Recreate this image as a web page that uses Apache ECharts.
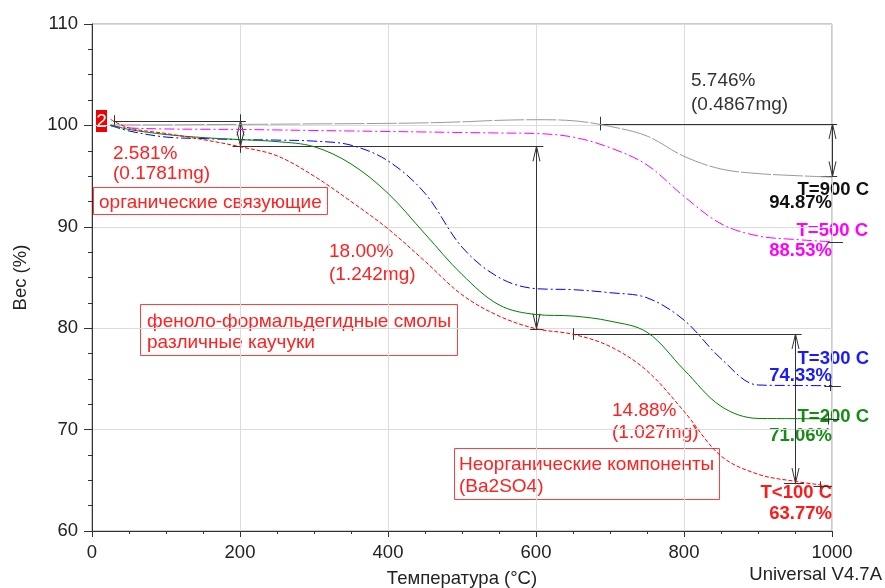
<!DOCTYPE html>
<html>
<head>
<meta charset="utf-8">
<script src="https://cdn.jsdelivr.net/npm/echarts@6/dist/echarts.min.js"></script>
<style>
  html, body { margin: 0; padding: 0; background: #fff; }
  #tga { width: 885px; height: 588px; }
</style>
</head>
<body>
<div id="tga"></div>
<script>
// температуры, общие для всех кривых
const temps = [25, 50, 100, 150, 200, 250, 300, 350, 400, 450, 500, 550, 600, 650, 700, 750, 800, 850, 900, 950, 1000]
// вес (%) для каждой кривой
const wRed = [100.6, 99.75, 99.2, 98.6, 97.9, 97.0, 95.0, 92.5, 89.8, 86.6, 83.3, 81.2, 79.95, 79.4, 78.2, 75.8, 71.8, 67.4, 65.6, 64.9, 64.4]
const wGreen = [100.05, 99.6, 99.1, 98.8, 98.6, 98.4, 97.9, 96.2, 93.3, 89.3, 85.3, 82.3, 81.35, 81.2, 80.7, 79.6, 75.9, 72.3, 71.1, 71.08, 71.06]
const wBlue = [100.0, 99.45, 98.85, 98.7, 98.6, 98.55, 98.45, 98.05, 96.5, 93.3, 88.0, 85.0, 83.9, 83.8, 83.5, 83.0, 80.8, 77.0, 74.4, 74.35, 74.33]
const wMagenta = [99.95, 99.75, 99.65, 99.62, 99.6, 99.55, 99.5, 99.45, 99.4, 99.35, 99.3, 99.25, 99.2, 98.85, 97.8, 96.1, 93.0, 90.3, 89.1, 88.75, 88.53]
const wGray = [100.05, 100.05, 100.05, 100.08, 100.1, 100.12, 100.15, 100.17, 100.2, 100.25, 100.35, 100.5, 100.56, 100.46, 99.9, 98.95, 96.95, 95.7, 95.25, 95.05, 94.9]

// ступени потери массы: [T1, T2, вес]
const stepLines = [
	[29, 208, 100.47], [190, 610, 97.93], [592, 610, 79.95],
	[650, 959, 79.43], [935, 962, 64.73],
	[686, 1007, 100.14], [985, 1007, 94.97],
	[994, 1015, 88.53], [990, 1012, 74.33], [988, 1010, 71.06], [975, 1000, 64.4]
]
// стрелки: [T, верх, низ]
const stepArrows = [[200, 100.47, 97.93], [600, 97.93, 79.95], [950, 79.43, 64.73], [1000, 100.14, 94.97]]
// засечки: [T, верх, низ]
const stepTicks = [[30, 101.0, 99.9], [200, 101.1, 97.3], [650, 80.0, 78.85], [686, 100.85, 99.5],
	[997, 74.9, 73.8], [995, 71.6, 70.5], [984, 64.9, 64.2]]

const xTicks = [0, 200, 400, 600, 800, 1000]
const yTicks = [60, 70, 80, 90, 100, 110]

const FONT = 'Arial, "Liberation Sans", sans-serif'

function pairs(ws) {
	return temps.map((t, i) => [t, ws[i]])
}

function curve(name, ws, color, dash) {
	return {
		name: name,
		type: 'line',
		data: pairs(ws),
		smooth: 0.35,
		showSymbol: false,
		silent: true,
		lineStyle: { color: color, width: 1, type: dash }
	}
}

function txt(x, y, text, color, extra) {
	return {
		type: 'text',
		silent: true,
		style: Object.assign({
			x: x,
			y: y,
			text: text,
			fill: color,
			fontSize: 19,
			fontFamily: FONT,
			align: 'left',
			verticalAlign: 'middle'
		}, extra || {})
	}
}

function bold(x, y, text, color) {
	return txt(x, y, text, color, { align: 'right', fontWeight: 'bold', fontSize: 18.5 })
}

function box(x, y, w, h) {
	return {
		type: 'rect',
		silent: true,
		shape: { x: x + 0.5, y: y + 0.5, width: w, height: h },
		style: { fill: 'rgba(0,0,0,0)', stroke: '#ff4040', lineWidth: 1 }
	}
}

const ink = '#333'

const chart = echarts.init(document.getElementById('tga'))
chart.setOption({
	backgroundColor: '#fff',
	animation: false,
	grid: {
		left: 92, right: 53, top: 24, bottom: 57,
		outerBoundsMode: 'none',
		containLabel: false,
		show: true, borderColor: '#999', borderWidth: 1
	},
	xAxis: {
		type: 'value',
		min: xTicks[0],
		max: xTicks[xTicks.length - 1],
		interval: 200,
		name: 'Температура (°C)',
		nameLocation: 'middle',
		nameGap: 38,
		nameTextStyle: { fontSize: 18.5, color: '#222', fontFamily: FONT },
		axisLine: { lineStyle: { color: ink } },
		axisTick: { length: 6, lineStyle: { color: ink } },
		minorTick: { show: true, splitNumber: 4, length: 3, lineStyle: { color: ink } },
		splitLine: { show: true, lineStyle: { color: '#dcdcdc' } },
		axisLabel: { fontSize: 18.5, color: '#222', margin: 12, fontFamily: FONT, formatter: v => String(v) }
	},
	yAxis: {
		type: 'value',
		min: yTicks[0],
		max: yTicks[yTicks.length - 1],
		interval: 10,
		name: 'Вес (%)',
		nameLocation: 'middle',
		nameGap: 62,
		nameTextStyle: { fontSize: 18.5, color: '#222', fontFamily: FONT },
		axisLine: { show: true, lineStyle: { color: ink } },
		axisTick: { show: true, length: 8, lineStyle: { color: ink } },
		minorTick: { show: true, splitNumber: 4, length: 4, lineStyle: { color: ink } },
		splitLine: { show: true, lineStyle: { color: '#dcdcdc' } },
		axisLabel: { fontSize: 18.5, color: '#222', margin: 14, fontFamily: FONT }
	},
	series: [
		curve('T=900 C', wGray, '#9a9a9a', [30, 2]),
		curve('T=500 C', wMagenta, '#ff00ff', [10, 3, 2, 3]),
		curve('T=300 C', wBlue, '#0000ff', [10, 3, 2, 3]),
		curve('T=200 C', wGreen, '#008000', 'solid'),
		curve('T<100 C', wRed, '#ff0000', [4, 2]),
		{
			type: 'custom',
			silent: true,
			clip: false,
			data: stepLines,
			renderItem(params, api) {
				const a = api.coord([api.value(0), api.value(2)])
				const b = api.coord([api.value(1), api.value(2)])
				return {
					type: 'line',
					shape: { x1: a[0], y1: Math.round(a[1]) + 0.5, x2: b[0], y2: Math.round(b[1]) + 0.5 },
					style: { stroke: ink, lineWidth: 1 }
				}
			}
		},
		{
			type: 'custom',
			silent: true,
			clip: false,
			data: stepTicks,
			renderItem(params, api) {
				const a = api.coord([api.value(0), api.value(1)])
				const b = api.coord([api.value(0), api.value(2)])
				const x = Math.round(a[0]) + 0.5
				return {
					type: 'line',
					shape: { x1: x, y1: a[1], x2: x, y2: b[1] },
					style: { stroke: ink, lineWidth: 1 }
				}
			}
		},
		{
			type: 'custom',
			silent: true,
			clip: false,
			data: stepArrows,
			renderItem(params, api) {
				const a = api.coord([api.value(0), api.value(1)])
				const b = api.coord([api.value(0), api.value(2)])
				const x = Math.round(a[0]) + 0.5
				const hl = Math.min(15, (b[1] - a[1]) / 2 + 2)
				return {
					type: 'group',
					children: [
						{ type: 'line', shape: { x1: x, y1: a[1], x2: x, y2: b[1] }, style: { stroke: ink, lineWidth: 1 } },
						{ type: 'polyline', shape: { points: [[x - 3.5, a[1] + hl], [x, a[1]], [x + 3.5, a[1] + hl]] }, style: { stroke: ink, lineWidth: 1, fill: null } },
						{ type: 'polyline', shape: { points: [[x - 3.5, b[1] - hl], [x, b[1]], [x + 3.5, b[1] - hl]] }, style: { stroke: ink, lineWidth: 1, fill: null } }
					]
				}
			}
		}
	],
	graphic: [
		{ type: 'rect', silent: true, shape: { x: 96, y: 110, width: 11, height: 22 }, style: { fill: '#f00000' } },
		txt(101.5, 122, '2', '#fff', { align: 'center' }),

		txt(113, 154, '2.581%', '#ff2020'),
		txt(113, 174, '(0.1781mg)', '#ff2020'),
		box(93, 187, 234, 27),
		txt(99, 203, 'органические связующие', '#ff2020'),

		txt(329, 252, '18.00%', '#ff2020'),
		txt(329, 275, '(1.242mg)', '#ff2020'),
		box(140, 304, 317, 51),
		txt(147, 322, 'феноло-формальдегидные смолы', '#ff2020'),
		txt(147, 343, 'различные каучуки', '#ff2020'),

		txt(612, 411, '14.88%', '#ff2020'),
		txt(612, 433, '(1.027mg)', '#ff2020'),
		box(454, 448, 265, 51),
		txt(459, 465, 'Неорганические компоненты', '#ff2020'),
		txt(459, 487, '(Ba2SO4)', '#ff2020'),

		txt(691, 81, '5.746%', '#333'),
		txt(691, 105, '(0.4867mg)', '#333'),

		bold(869, 190, 'T=900 C', '#111'),
		bold(832, 203, '94.87%', '#111'),
		bold(868, 231, 'T=500 C', '#ff00ff'),
		bold(832, 251, '88.53%', '#ff00ff'),
		bold(869, 359, 'T=300 C', '#1a1aff'),
		bold(832, 376, '74.33%', '#1a1aff'),
		bold(869, 417, 'T=200 C', '#178a17'),
		bold(832, 436, '71.06%', '#178a17'),
		bold(832, 493, 'T<100 C', '#ff1a1a'),
		bold(832, 514, '63.77%', '#ff1a1a'),

		txt(882, 575, 'Universal V4.7A', '#222', { align: 'right', fontSize: 18.5 })
	]
})
</script>
</body>
</html>
